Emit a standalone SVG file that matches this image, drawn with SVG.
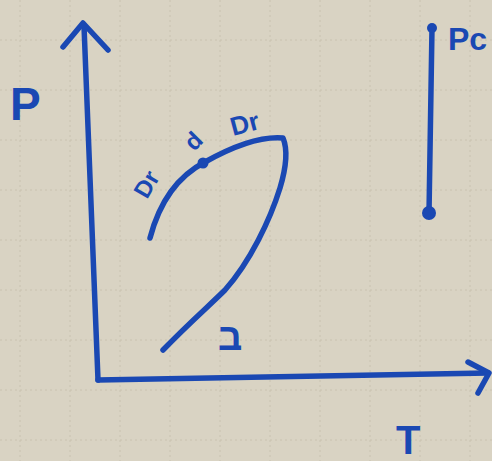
<svg xmlns="http://www.w3.org/2000/svg" width="492" height="461" viewBox="0 0 492 461">
<defs>
<style>
.ink{fill:none;stroke:#1a48b3;stroke-width:5.5;stroke-linecap:round;stroke-linejoin:round}
.dot{fill:#1a48b3}
.lbl{fill:#1a48b3;font-family:"Liberation Sans",Arial,sans-serif;font-weight:bold}
.grid{stroke:#c9c2b0;stroke-width:1;stroke-dasharray:2 3}
</style>
</defs>
<rect width="492" height="461" fill="#d9d3c3"/>
<g id="grid">
<path class="grid" d="M20 0V461M70 0V461M120 0V461M170 0V461M220 0V461M270 0V461M320 0V461M370 0V461M420 0V461M470 0V461M0 40H492M0 90H492M0 140H492M0 190H492M0 240H492M0 290H492M0 340H492M0 390H492M0 440H492"/>
</g>
<g id="connectors">
<path class="ink" d="M98 380 L84 26"/>
<path class="ink" d="M63 47 L83 23 L108 50"/>
<path class="ink" d="M98 380 L488 373"/>
<path class="ink" d="M468 362 L489 373 L478 393"/>
<path class="ink" d="M163 350 C190 322 210 305 225 290 C250 262 270 220 280 188 C286 168 288 150 283 138 C260 136 230 148 205 162 C180 175 160 200 150 238"/>
<path class="ink" d="M432 28 L429 213"/>
</g>
<g id="node-cp"><circle class="dot" cx="203" cy="163" r="5.5"/></g>
<g id="node-pc-top"><circle class="dot" cx="432" cy="28" r="5"/></g>
<g id="node-pc-bottom"><circle class="dot" cx="429" cy="213" r="7"/></g>
<g id="label-P"><text class="lbl" x="10" y="120" font-size="46">P</text></g>
<g id="label-T"><text class="lbl" x="396" y="454" font-size="40">T</text></g>
<g id="label-Pc"><text class="lbl" x="448" y="50" font-size="32">Pc</text></g>
<g id="label-b"><text class="lbl" x="218" y="350" font-size="38" font-family="DejaVu Sans,sans-serif">ב</text></g>
<g id="label-dr1"><text class="lbl" x="147" y="200" font-size="24" transform="rotate(-60 147 200)">Dr</text></g>
<g id="label-d"><text class="lbl" x="194" y="152" font-size="24" transform="rotate(-45 194 152)">d</text></g>
<g id="label-dr2"><text class="lbl" x="233" y="136" font-size="26" transform="rotate(-15 233 136)">Dr</text></g>
</svg>
